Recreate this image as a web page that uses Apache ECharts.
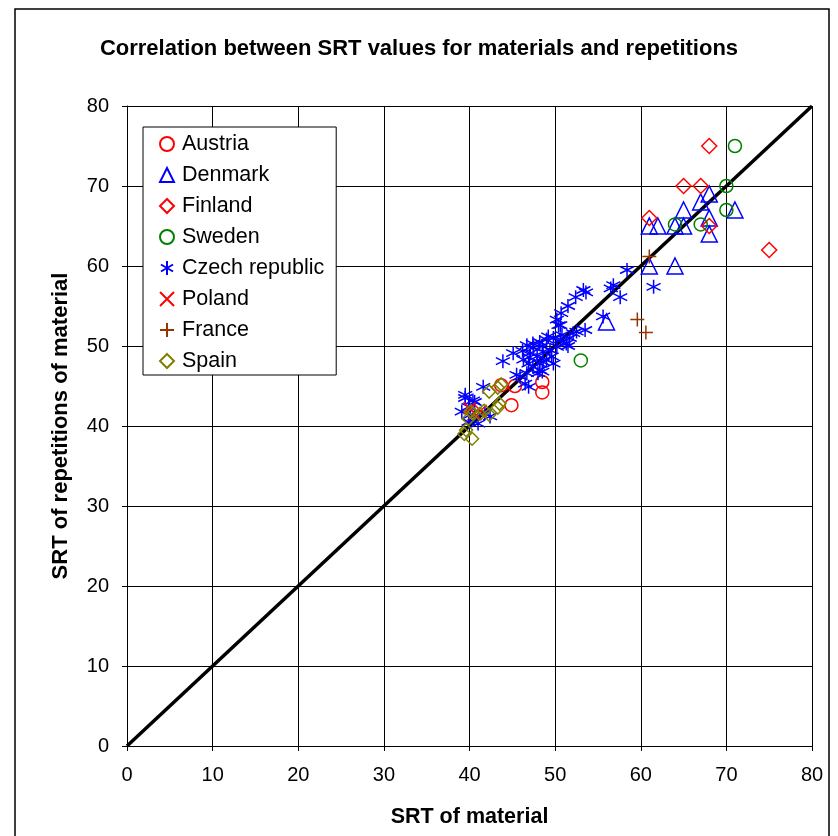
<!DOCTYPE html>
<html><head><meta charset="utf-8">
<script src="https://cdn.jsdelivr.net/npm/echarts@6/dist/echarts.min.js"></script>
<style>html,body{margin:0;padding:0;background:#fff}#c{width:838px;height:836px}</style>
</head><body><div id="c"></div>
<script>
const xTicks = [0,10,20,30,40,50,60,70,80];
const yTicks = [0,10,20,30,40,50,60,70,80];
const austria = [[43.7,45.1],[45.3,45.0],[48.5,45.5],[48.5,44.2],[44.9,42.6]];
const denmark = [[68,69],[67,68],[65,67],[71,67],[68,66],[61,65],[62,65],[64,65],[65,65],[68,64],[61,60],[64,60],[56,53]];
const finland = [[68,75],[65,70],[67,70],[61,66],[68,65],[75,62]];
const sweden = [[71,75],[70,70],[70,67],[64,65.2],[67,65.2],[53,48.2]];
const czech = [[58.4,59.5],[61.5,57.4],[56.8,57.6],[56.5,57.2],[57.6,56.1],[53.3,57.0],[53.6,56.7],[52.4,56.1],[51.5,55.0],[50.7,54.1],[50.2,53.3],[50.6,52.6],[55.6,53.7],[53.5,52.0],[52.5,51.8],[51.5,50.0],[52.1,51.6],[51.7,51.0],
 [45.1,49.1],[43.9,48.1],[46.7,50.1],[47.4,50.3],[48.2,50.5],[49.0,50.8],[49.8,51.0],[50.6,50.8],[51.3,50.3],[47.1,49.1],[47.9,48.7],[48.6,49.3],[49.4,49.5],[50.2,49.9],[46.3,48.3],[46.9,47.8],[47.4,47.4],[48.2,47.0],[49.0,48.3],[49.6,48.7],[46.7,46.6],[48.2,47.8],[49.8,47.8],[47.5,49.8],[48.5,50.0],[49.2,51.2],[50.4,52.6],[47.0,48.6],[48.0,46.6],[48.6,48.0],[50.8,51.4],[46.2,49.4],
 [45.9,46.2],[46.9,44.9],[48.5,46.8],[45.5,46.4],[46.5,45.3],[41.6,44.9],
 [39.5,43.5],[40.6,43.0],[39.9,42.4],[39.1,41.8],[41.8,41.6],[42.4,41.2],[40.6,41.2],[41.0,40.3],[39.9,40.5],[40.1,41.4],[39.5,43.9],[40.4,43.2]];
const poland = [[40.0,42.2],[40.6,41.6],[41.3,41.9]];
const france = [[61,61.2],[59.6,53.3],[60.6,51.7]];
const spain = [[43.7,45.2],[43.3,44.8],[42.3,44.3],[43.5,42.8],[43.3,42.3],[41.7,41.9],[42.3,41.4],[40.4,41.6],[39.9,40.9],[40.1,41.8],[39.6,39.5],[39.4,39.0],[40.3,38.4],[41.2,41.5]];
const diagonal = [[0,0],[80,80]];

const ASTER = 'path://M10 0L10 20M1.34 5L18.66 15M1.34 15L18.66 5';
const XMARK = 'path://M0 0L10 10M0 10L10 0';
const PLUS = 'path://M5 0L5 10M0 5L10 5';
function sc(name, data, symbol, color, size){
  return {name, type:'scatter', data, symbol, symbolSize:size, z:3,
    itemStyle:{color:'rgba(0,0,0,0)', borderColor:color, borderWidth:1.5, opacity:1},
    emphasis:{disabled:true}};
}
const FONT = 'Liberation Sans, Arial, sans-serif';
const chart = echarts.init(document.getElementById('c'));
chart.setOption({
  animation:false,
  backgroundColor:'#fff',
  title:{text:'Correlation between SRT values for materials and repetitions', left:'center', top:33,
    textStyle:{fontFamily:FONT, fontSize:22, fontWeight:'bold', color:'#000'}},
  grid:{left:127, right:26, top:106, bottom:90},
  graphic:[{type:'rect', shape:{x:15, y:9, width:814, height:850}, silent:true,
    style:{fill:'none', stroke:'#000', lineWidth:1.5}, z:-1}],
  legend:{orient:'vertical', left:143, top:127, backgroundColor:'#fff', borderColor:'#000', borderWidth:1,
    padding:[6,12,3,16], itemGap:9, itemWidth:14, itemHeight:14,
    textStyle:{fontFamily:FONT, fontSize:21.5, color:'#000', padding:[0,0,0,3]},
    data:['Austria','Denmark','Finland','Sweden','Czech republic','Poland','France','Spain']},
  xAxis:{type:'value', min:0, max:80, interval:10, name:'SRT of material', nameLocation:'middle', nameGap:60,
    nameTextStyle:{fontFamily:FONT, fontSize:21.5, fontWeight:'bold', color:'#000'},
    axisLine:{lineStyle:{color:'#000', width:1}}, axisTick:{show:true, length:5, lineStyle:{color:'#000'}},
    axisLabel:{fontFamily:FONT, fontSize:20, color:'#000', margin:19, formatter:v=>xTicks.includes(v)?String(v):''},
    splitLine:{show:true, lineStyle:{color:'#000', width:1}}},
  yAxis:{type:'value', min:0, max:80, interval:10, name:'SRT of repetitions of material', nameLocation:'middle', nameGap:55,
    nameTextStyle:{fontFamily:FONT, fontSize:22, fontWeight:'bold', color:'#000'},
    axisLine:{show:true, lineStyle:{color:'#000', width:1}}, axisTick:{show:true, length:5, lineStyle:{color:'#000'}},
    axisLabel:{fontFamily:FONT, fontSize:20, color:'#000', margin:18, formatter:v=>yTicks.includes(v)?String(v):''},
    splitLine:{show:true, lineStyle:{color:'#000', width:1}}},
  series:[
    {name:'line', type:'line', data:diagonal, symbol:'none', lineStyle:{color:'#000', width:3.5}, z:2, silent:true},
    sc('Austria', austria, 'circle', '#FF0000', 13),
    sc('Denmark', denmark, 'triangle', '#0000FF', 16),
    sc('Finland', finland, 'diamond', '#FF0000', 15),
    sc('Sweden', sweden, 'circle', '#008000', 13),
    sc('Czech republic', czech, ASTER, '#0000FF', 14),
    sc('Poland', poland, XMARK, '#FF0000', 12),
    sc('France', france, PLUS, '#993300', 14),
    sc('Spain', spain, 'diamond', '#808000', 13)
  ]
});
</script></body></html>
